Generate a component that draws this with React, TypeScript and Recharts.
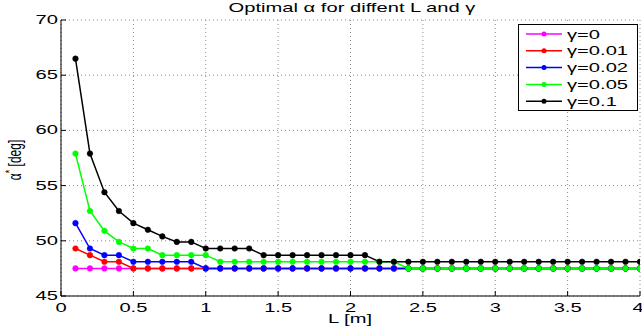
import React from 'react';
import { LineChart, Line, XAxis, YAxis, CartesianGrid } from 'recharts';

// cable length L [m]
const lengths = [
  0.1, 0.2, 0.3, 0.4, 0.5, 0.6, 0.7, 0.8, 0.9, 1.0,
  1.1, 1.2, 1.3, 1.4, 1.5, 1.6, 1.7, 1.8, 1.9, 2.0,
  2.1, 2.2, 2.3, 2.4, 2.5, 2.6, 2.7, 2.8, 2.9, 3.0,
  3.1, 3.2, 3.3, 3.4, 3.5, 3.6, 3.7, 3.8, 3.9, 4.0,
];

const gamma0 = [
  47.5, 47.5, 47.5, 47.5, 47.5, 47.5, 47.5, 47.5, 47.5, 47.5,
  47.5, 47.5, 47.5, 47.5, 47.5, 47.5, 47.5, 47.5, 47.5, 47.5,
  47.5, 47.5, 47.5, 47.5, 47.5, 47.5, 47.5, 47.5, 47.5, 47.5,
  47.5, 47.5, 47.5, 47.5, 47.5, 47.5, 47.5, 47.5, 47.5, 47.5,
];
const gamma001 = [
  49.3, 48.7, 48.1, 48.1, 47.5, 47.5, 47.5, 47.5, 47.5, 47.5,
  47.5, 47.5, 47.5, 47.5, 47.5, 47.5, 47.5, 47.5, 47.5, 47.5,
  47.5, 47.5, 47.5, 47.5, 47.5, 47.5, 47.5, 47.5, 47.5, 47.5,
  47.5, 47.5, 47.5, 47.5, 47.5, 47.5, 47.5, 47.5, 47.5, 47.5,
];
const gamma002 = [
  51.6, 49.3, 48.7, 48.7, 48.1, 48.1, 48.1, 48.1, 48.1, 47.5,
  47.5, 47.5, 47.5, 47.5, 47.5, 47.5, 47.5, 47.5, 47.5, 47.5,
  47.5, 47.5, 47.5, 47.5, 47.5, 47.5, 47.5, 47.5, 47.5, 47.5,
  47.5, 47.5, 47.5, 47.5, 47.5, 47.5, 47.5, 47.5, 47.5, 47.5,
];
const gamma005 = [
  57.9, 52.7, 50.9, 49.9, 49.3, 49.3, 48.7, 48.7, 48.7, 48.7,
  48.1, 48.1, 48.1, 48.1, 48.1, 48.1, 48.1, 48.1, 48.1, 48.1,
  48.1, 48.1, 48.1, 47.5, 47.5, 47.5, 47.5, 47.5, 47.5, 47.5,
  47.5, 47.5, 47.5, 47.5, 47.5, 47.5, 47.5, 47.5, 47.5, 47.5,
];
const gamma01 = [
  66.5, 57.9, 54.4, 52.7, 51.6, 51.0, 50.4, 49.9, 49.9, 49.3,
  49.3, 49.3, 49.3, 48.7, 48.7, 48.7, 48.7, 48.7, 48.7, 48.7,
  48.7, 48.1, 48.1, 48.1, 48.1, 48.1, 48.1, 48.1, 48.1, 48.1,
  48.1, 48.1, 48.1, 48.1, 48.1, 48.1, 48.1, 48.1, 48.1, 48.1,
];

const xTicks = [0, 0.5, 1, 1.5, 2, 2.5, 3, 3.5, 4];
const yTicks = [45, 50, 55, 60, 65, 70];

const series = [
  { key: 'g0', name: 'γ=0', color: '#ff00ff', values: gamma0 },
  { key: 'g001', name: 'γ=0.01', color: '#ff0000', values: gamma001 },
  { key: 'g002', name: 'γ=0.02', color: '#0000ff', values: gamma002 },
  { key: 'g005', name: 'γ=0.05', color: '#00ff00', values: gamma005 },
  { key: 'g01', name: 'γ=0.1', color: '#000000', values: gamma01 },
];

const data = lengths.map((L, i) => {
  const row: Record<string, number> = { L };
  series.forEach((s) => (row[s.key] = s.values[i]));
  return row;
});

// the reference text is stretched sideways
const SX = 1.68;
const FONT = '"Liberation Sans", Arial, sans-serif';

const XTick = ({ x, y, payload }: any) => (
  <text transform={`translate(${x},${y}) scale(${SX},1)`} textAnchor="middle" fontSize={12} fontFamily={FONT} fill="#000">
    {payload.value}
  </text>
);

const YTick = ({ x, y, payload }: any) => (
  <text transform={`translate(${x},${y + 4}) scale(${SX},1)`} textAnchor="end" fontSize={12} fontFamily={FONT} fill="#000">
    {payload.value}
  </text>
);

const NoTick = () => <g />;

export default function App() {
  return (
    <div style={{ position: 'absolute', left: 0, top: 0, width: 642, height: 333, background: '#fff' }}>
      <LineChart width={642} height={333} data={data} margin={{ top: 20, right: 2, bottom: 0, left: 0 }}>
        <CartesianGrid stroke="#888" strokeDasharray="1 3" />
        <XAxis
          dataKey="L"
          type="number"
          domain={[0, 4]}
          ticks={xTicks}
          allowDataOverflow
          height={37}
          tickSize={-5}
          tickMargin={21}
          tick={<XTick />}
          stroke="#000"
        />
        <XAxis xAxisId="top" orientation="top" type="number" domain={[0, 4]} ticks={xTicks} height={0} tickSize={-5} tick={<NoTick />} stroke="#000" />
        <YAxis
          type="number"
          domain={[45, 70]}
          ticks={yTicks}
          width={61}
          tickSize={-5}
          tickMargin={8}
          tick={<YTick />}
          stroke="#000"
        />
        <YAxis yAxisId="right" orientation="right" type="number" domain={[45, 70]} ticks={yTicks} width={0} tickSize={-5} tick={<NoTick />} stroke="#000" />
        {series.map((s) => (
          <Line
            key={s.key}
            dataKey={s.key}
            name={s.name}
            stroke={s.color}
            strokeWidth={1.5}
            dot={{ r: 2.8, fill: s.color, stroke: s.color, strokeWidth: 0.5 }}
            isAnimationActive={false}
          />
        ))}
      </LineChart>
      <svg width={642} height={333} style={{ position: 'absolute', left: 0, top: 0, pointerEvents: 'none' }} fontFamily={FONT} fontSize={12}>
        <text transform={`translate(352,12) scale(${SX},1)`} textAnchor="middle" fill="#000">
          Optimal α for diffent L and γ
        </text>
        <text transform={`translate(350,323) scale(${SX},1)`} textAnchor="middle" fill="#000">
          L [m]
        </text>
        <text transform={`translate(21,160) scale(1.5,1) rotate(-90)`} textAnchor="middle" fill="#000">
          α<tspan dy={-5} fontSize={9}>*</tspan>
          <tspan dy={5}> [deg]</tspan>
        </text>
        <g transform="translate(518,24)">
          <rect x={0.5} y={0.5} width={119} height={86} fill="#fff" stroke="#000" />
          {series.map((s, i) => (
            <g key={s.key} transform={`translate(0,${10 + i * 16.8})`}>
              <line x1={8} x2={44} y1={0} y2={0} stroke={s.color} strokeWidth={1.5} />
              <circle cx={26} cy={0} r={2.5} fill={s.color} />
              <text transform={`translate(49,4.5) scale(${SX},1)`} fill="#000">
                {s.name}
              </text>
            </g>
          ))}
        </g>
      </svg>
    </div>
  );
}
